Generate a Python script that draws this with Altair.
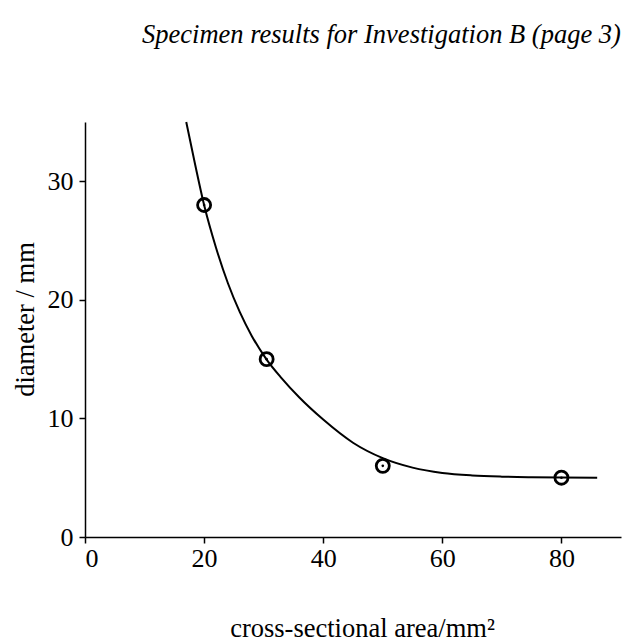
import altair as alt
import pandas as pd

# measured specimens
area_points = [20, 30.5, 50, 80]
diameter_points = [28, 15, 6, 5]

# hand-drawn smooth curve
curve_area = [17, 18.5, 20, 22, 24, 26, 28, 30.5, 33, 36, 40, 45, 50, 55, 60, 65, 70, 75, 80, 86]
curve_diameter = [35, 31.4, 28, 24.4, 21.4, 18.96, 16.96, 14.96, 13.4, 11.76, 9.9, 7.95,
                  6.65, 5.85, 5.4, 5.19, 5.09, 5.04, 5.01, 5.0]

x_ticks = [0, 20, 40, 60, 80]
y_ticks = [0, 10, 20, 30]

pts = pd.DataFrame({"area": area_points, "diameter": diameter_points})
curve = pd.DataFrame({"area": curve_area, "diameter": curve_diameter})

FONT = "Liberation Serif"

xs = alt.Scale(domain=[0, 90], nice=False, zero=True)
ys = alt.Scale(domain=[0, 35], nice=False, zero=True)

x_enc = alt.X("area:Q", scale=xs,
              axis=alt.Axis(values=x_ticks, title="cross-sectional area/mm²",
                            titlePadding=44, labelPadding=2, titleX=277))
y_enc = alt.Y("diameter:Q", scale=ys,
              axis=alt.Axis(values=y_ticks, title="diameter / mm",
                            titlePadding=8, labelPadding=6, titleY=197))

line = alt.Chart(curve).mark_line(color="black", strokeWidth=2, interpolate="monotone").encode(
    x=x_enc, y=y_enc)

rings = alt.Chart(pts).mark_point(shape="circle", filled=False, color="black",
                                  strokeWidth=2.8, size=170, opacity=1).encode(
    x="area:Q", y="diameter:Q")

dots = alt.Chart(pts).mark_point(shape="circle", filled=True, color="black",
                                 size=7, opacity=1).encode(
    x="area:Q", y="diameter:Q")

chart = (line + rings + dots).properties(
    width=536, height=415,
    autosize=alt.AutoSizeParams(type="none"),
    padding={"left": 85, "top": 122, "right": 15, "bottom": 107},
    title=alt.TitleParams("Specimen results for Investigation B (page 3)",
                          font=FONT, fontSize=26.5, fontStyle="italic",
                          fontWeight="normal", color="black",
                          anchor="start", frame="group", dx=57, offset=70),
    background="white",
).configure_view(stroke=None).configure_axis(
    grid=False,
    domainColor="black", domainWidth=1.5,
    tickColor="black", tickWidth=1.5, tickSize=6,
    labelFont=FONT, labelFontSize=26, labelColor="black",
    titleFont=FONT, titleFontSize=26.5, titleFontWeight="normal", titleColor="black",
)

chart.save("out.html", embed_options={"renderer": "svg", "actions": False})
